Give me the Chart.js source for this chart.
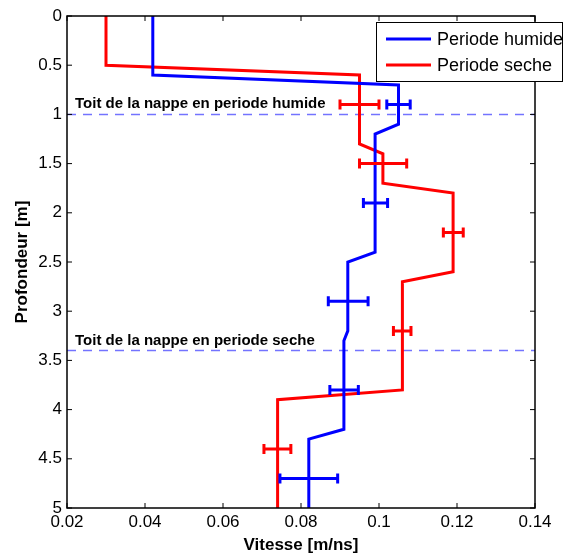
<!DOCTYPE html>
<html>
<head>
<meta charset="utf-8">
<script src="https://cdn.jsdelivr.net/npm/chart.js@4/dist/chart.umd.min.js"></script>
<style>
html, body { margin: 0; padding: 0; background: #fff; }
#wrap { width: 563px; height: 554px; }
</style>
</head>
<body>
<div id="wrap"><canvas id="profil"></canvas></div>
<script>
// profils de vitesse (vitesse en m/ns, profondeur en m)
const humideVitesse = [0.042, 0.042, 0.105, 0.105, 0.099, 0.099, 0.092, 0.092, 0.091, 0.091, 0.082, 0.082];
const humideProf = [0, 0.6, 0.7, 1.1, 1.2, 2.4, 2.5, 3.2, 3.3, 4.2, 4.3, 5];
const secheVitesse = [0.030, 0.030, 0.095, 0.095, 0.101, 0.101, 0.119, 0.119, 0.106, 0.106, 0.074, 0.074];
const secheProf = [0, 0.5, 0.6, 1.3, 1.4, 1.7, 1.8, 2.6, 2.7, 3.8, 3.9, 5];

// barres d'erreur horizontales
const errHumideProf = [0.9, 1.9, 2.9, 3.8, 4.7];
const errHumideMin = [0.102, 0.096, 0.087, 0.0874, 0.0746];
const errHumideMax = [0.108, 0.1022, 0.0972, 0.0947, 0.0894];
const errSecheProf = [0.9, 1.5, 2.2, 3.2, 4.4];
const errSecheMin = [0.090, 0.095, 0.1165, 0.1037, 0.0705];
const errSecheMax = [0.100, 0.1071, 0.1216, 0.1082, 0.0774];

// toit de la nappe
const nappeProf = [1.0, 3.4];
const nappeTextes = ["Toit de la nappe en periode humide", "Toit de la nappe en periode seche"];

const xTicks = [0.02, 0.04, 0.06, 0.08, 0.1, 0.12, 0.14];
const yTicks = [0, 0.5, 1, 1.5, 2, 2.5, 3, 3.5, 4, 4.5, 5];

const BLEU = "#0000ff";
const ROUGE = "#ff0000";
const FONT = "'Liberation Sans', Arial, Helvetica, sans-serif";

function points(xs, ys) {
    return xs.map((v, i) => ({ x: v, y: ys[i] }));
}

const datasets = [
    { label: "Periode humide", data: points(humideVitesse, humideProf), borderColor: BLEU, borderWidth: 3 },
    { label: "Periode seche", data: points(secheVitesse, secheProf), borderColor: ROUGE, borderWidth: 3 }
];
nappeProf.forEach(p => {
    datasets.push({
        label: "nappe",
        data: [{ x: xTicks[0], y: p }, { x: xTicks[xTicks.length - 1], y: p }],
        borderColor: "rgba(0,0,255,0.55)",
        borderWidth: 1.5,
        borderDash: [9, 7]
    });
});
datasets.forEach(d => { d.showLine = true; d.pointRadius = 0; d.fill = false; d.tension = 0; });

const habillage = {
    id: "habillage",
    afterDatasetsDraw(chart) {
        const ctx = chart.ctx;
        const xs = chart.scales.x, ys = chart.scales.y;
        const a = chart.chartArea;

        // barres d'erreur
        function barres(prof, mins, maxs, couleur) {
            ctx.save();
            ctx.strokeStyle = couleur;
            ctx.lineWidth = 3;
            prof.forEach((p, i) => {
                const y = ys.getPixelForValue(p);
                const x1 = xs.getPixelForValue(mins[i]);
                const x2 = xs.getPixelForValue(maxs[i]);
                ctx.beginPath();
                ctx.moveTo(x1, y); ctx.lineTo(x2, y);
                ctx.moveTo(x1, y - 5); ctx.lineTo(x1, y + 5);
                ctx.moveTo(x2, y - 5); ctx.lineTo(x2, y + 5);
                ctx.stroke();
            });
            ctx.restore();
        }
        barres(errHumideProf, errHumideMin, errHumideMax, BLEU);
        barres(errSecheProf, errSecheMin, errSecheMax, ROUGE);

        // textes de la nappe
        ctx.save();
        ctx.fillStyle = "#000";
        ctx.font = "bold 15px " + FONT;
        ctx.textBaseline = "alphabetic";
        nappeProf.forEach((p, i) => {
            ctx.fillText(nappeTextes[i], a.left + 8, ys.getPixelForValue(p) - 6);
        });
        ctx.restore();
    },
    afterDraw(chart) {
        const ctx = chart.ctx;
        const xs = chart.scales.x, ys = chart.scales.y;
        const a = chart.chartArea;

        // cadre et graduations interieures
        ctx.save();
        ctx.strokeStyle = "#000";
        ctx.lineWidth = 1.5;
        ctx.strokeRect(a.left, a.top, a.right - a.left, a.bottom - a.top);
        ctx.lineWidth = 1;
        ctx.beginPath();
        xTicks.forEach(v => {
            const x = xs.getPixelForValue(v);
            ctx.moveTo(x, a.bottom); ctx.lineTo(x, a.bottom - 5);
            ctx.moveTo(x, a.top); ctx.lineTo(x, a.top + 5);
        });
        yTicks.forEach(v => {
            const y = ys.getPixelForValue(v);
            ctx.moveTo(a.left, y); ctx.lineTo(a.left + 5, y);
            ctx.moveTo(a.right, y); ctx.lineTo(a.right - 5, y);
        });
        ctx.stroke();
        ctx.restore();

        // titres des axes
        ctx.save();
        ctx.fillStyle = "#000";
        ctx.font = "bold 17px " + FONT;
        ctx.textAlign = "center";
        ctx.textBaseline = "middle";
        ctx.fillText("Vitesse [m/ns]", (a.left + a.right) / 2, 545);
        ctx.translate(22, (a.top + a.bottom) / 2);
        ctx.rotate(-Math.PI / 2);
        ctx.fillText("Profondeur [m]", 0, 0);
        ctx.restore();

        // legende
        ctx.save();
        ctx.fillStyle = "#fff";
        ctx.fillRect(376, 22, 186, 60);
        ctx.strokeStyle = "#000";
        ctx.lineWidth = 1;
        ctx.strokeRect(376.5, 22.5, 186, 59);
        ctx.font = "18px " + FONT;
        ctx.textBaseline = "middle";
        [0, 1].forEach(i => {
            const y = 39 + i * 26;
            ctx.strokeStyle = datasets[i].borderColor;
            ctx.lineWidth = 3;
            ctx.beginPath();
            ctx.moveTo(386, y); ctx.lineTo(431, y);
            ctx.stroke();
            ctx.fillStyle = "#000";
            ctx.fillText(datasets[i].label, 437, y + 1);
        });
        ctx.restore();
    }
};

new Chart(document.getElementById("profil"), {
    type: "scatter",
    data: { datasets: datasets },
    options: {
        responsive: true,
        maintainAspectRatio: false,
        animation: false,
        layout: { padding: { left: 0, right: 28, top: 16, bottom: 0 } },
        plugins: { legend: { display: false }, tooltip: { enabled: false } },
        scales: {
            x: {
                type: "linear",
                min: 0.02,
                max: 0.14,
                afterBuildTicks: s => { s.ticks = xTicks.map(v => ({ value: v })); },
                afterFit: s => { s.height = 46; },
                grid: { display: false, drawTicks: false },
                border: { display: false },
                ticks: { color: "#000", padding: 4, font: { family: FONT, size: 17 }, maxRotation: 0, callback: v => String(v) }
            },
            y: {
                type: "linear",
                reverse: true,
                min: 0,
                max: 5,
                afterBuildTicks: s => { s.ticks = yTicks.map(v => ({ value: v })); },
                afterFit: s => { s.width = 67; },
                grid: { display: false, drawTicks: false },
                border: { display: false },
                ticks: { color: "#000", padding: 5, font: { family: FONT, size: 17 }, callback: v => String(v) }
            }
        }
    },
    plugins: [habillage]
});
</script>
</body>
</html>
